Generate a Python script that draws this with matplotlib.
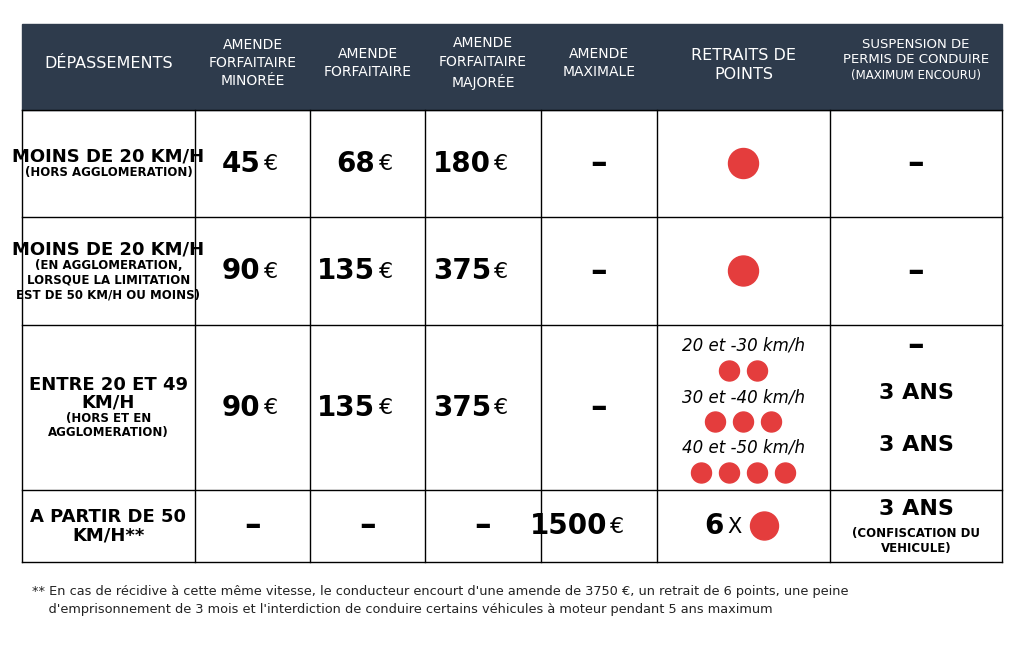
import matplotlib
matplotlib.use("Agg")
import matplotlib.pyplot as plt
from matplotlib.patches import Rectangle, Circle

headers = ["DÉPASSEMENTS", "AMENDE\nFORFAITAIRE\nMINORÉE", "AMENDE\nFORFAITAIRE",
           "AMENDE\nFORFAITAIRE\nMAJORÉE", "AMENDE\nMAXIMALE", "RETRAITS DE\nPOINTS",
           "SUSPENSION DE\nPERMIS DE CONDUIRE"]
row_titles = ["MOINS DE 20 KM/H", "MOINS DE 20 KM/H", "ENTRE 20 ET 49\nKM/H", "A PARTIR DE 50\nKM/H**"]
row_subs = ["(HORS AGGLOMERATION)", "(EN AGGLOMERATION,\nLORSQUE LA LIMITATION\nEST DE 50 KM/H OU MOINS)",
            "(HORS ET EN\nAGGLOMERATION)", ""]
amende_minoree = ["45", "90", "90", "–"]
amende_forfaitaire = ["68", "135", "135", "–"]
amende_majoree = ["180", "375", "375", "–"]
amende_maximale = ["–", "–", "–", "1500"]
points_retires = [1, 1, [2, 3, 4], 6]
speed_ranges = ["20 et -30 km/h", "30 et -40 km/h", "40 et -50 km/h"]
suspension = [["–"], ["–"], ["–", "3 ANS", "3 ANS"], ["3 ANS"]]
footnote = ("** En cas de récidive à cette même vitesse, le conducteur encourt d'une amende de 3750 €, un retrait de 6 points, une peine\n"
            "    d'emprisonnement de 3 mois et l'interdiction de conduire certains véhicules à moteur pendant 5 ans maximum")

cols = [22, 195, 310, 425, 541, 657, 830, 1002]
rows = [24, 110, 217, 325, 490, 562]
HEAD = "#2e3b4c"; RED = "#e43d3d"
COND = ["Liberation Sans Narrow", "DejaVu Sans"]

fig = plt.figure(figsize=(10.24, 6.48), dpi=100)
ax = fig.add_axes([0, 0, 1, 1])
ax.set_xlim(0, 1024); ax.set_ylim(648, 0); ax.axis("off")

ax.add_patch(Rectangle((cols[0], rows[0]), cols[-1]-cols[0], rows[1]-rows[0], color=HEAD))
for i, h in enumerate(headers):
    cx = (cols[i]+cols[i+1])/2
    fs = 11.5 if i in (0, 5) else 10
    if i == 6:
        ax.text(cx, 52, h, color="white", ha="center", va="center", fontsize=9.5, linespacing=1.25)
        ax.text(cx, 76, "(MAXIMUM ENCOURU)", color="white", ha="center", va="center", fontsize=8.5)
    else:
        ax.text(cx, 63 if i != 5 else 65, h, color="white", ha="center", va="center", fontsize=fs, linespacing=1.4)

for y in rows[1:]:
    ax.plot([cols[0], cols[-1]], [y, y], color="black", lw=1)
for x in cols:
    ax.plot([x, x], [rows[1], rows[-1]], color="black", lw=1)

def money(cx, cy, v):
    if v == "–":
        ax.text(cx, cy, "–", ha="center", va="center", fontsize=24, fontweight="bold")
    else:
        ax.text(cx+8, cy, v, ha="right", va="center", fontsize=20, fontweight="bold", family=COND)
        ax.text(cx+11, cy+1, "€", ha="left", va="center", fontsize=16)

def dots(cx, cy, n, r=10):
    sp = 28
    for k in range(n):
        ax.add_patch(Circle((cx + (k-(n-1)/2)*sp, cy), r, color=RED))

for r in range(4):
    y0, y1 = rows[r+1], rows[r+2]; cy = (y0+y1)/2
    cx0 = (cols[0]+cols[1])/2
    if row_subs[r]:
        nt = row_titles[r].count("\n")+1; ns = row_subs[r].count("\n")+1
        tot = nt*18 + ns*14
        top = cy - tot/2
        ax.text(cx0, top + nt*9, row_titles[r], ha="center", va="center", fontsize=13, fontweight="bold", family=COND, linespacing=1.0)
        ax.text(cx0, top + nt*18 + ns*7, row_subs[r], ha="center", va="center", fontsize=8.5, fontweight="bold", family=COND, linespacing=1.15)
    else:
        ax.text(cx0, cy, row_titles[r], ha="center", va="center", fontsize=13, fontweight="bold", family=COND, linespacing=1.0)
    for c, vals in zip([1, 2, 3, 4], [amende_minoree, amende_forfaitaire, amende_majoree, amende_maximale]):
        money((cols[c]+cols[c+1])/2, cy, vals[r])
    pc = (cols[5]+cols[6])/2
    p = points_retires[r]
    if isinstance(p, list):
        for k, (lab, n) in enumerate(zip(speed_ranges, p)):
            ty = 346 + k*51
            ax.text(pc, ty, lab, ha="center", va="center", fontsize=12, style="italic")
            dots(pc, ty+25, n, 10)
    elif p == 6:
        ax.text(pc-20, cy, "6", ha="right", va="center", fontsize=20, fontweight="bold", family=COND)
        ax.text(pc-9, cy+1, "X", ha="center", va="center", fontsize=15)
        dots(pc+21, cy, 1, 14)
    else:
        dots(pc, cy, p, 15)
    sc = (cols[6]+cols[7])/2
    s = suspension[r]
    if len(s) == 3:
        for v, yy in zip(s, [345, 393, 445]):
            ax.text(sc, yy, v, ha="center", va="center", fontsize=24 if v == "–" else 16, fontweight="bold", family=COND)
    elif r == 3:
        ax.text(sc, 509, "3 ANS", ha="center", va="center", fontsize=16, fontweight="bold", family=COND)
        ax.text(sc, 541, "(CONFISCATION DU\nVEHICULE)", ha="center", va="center", fontsize=8.5, fontweight="bold", family=COND, linespacing=1.2)
    else:
        ax.text(sc, cy, s[0], ha="center", va="center", fontsize=24, fontweight="bold")

ax.text(32, 601, footnote, ha="left", va="center", fontsize=9.3, color="#222222", linespacing=1.5)
fig.savefig("out.png", dpi=100, facecolor="white")
